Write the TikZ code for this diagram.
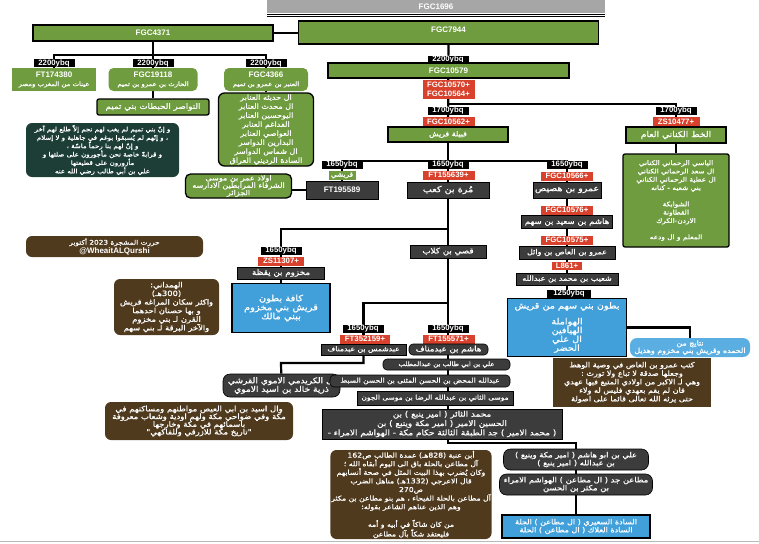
\documentclass[tikz,border=0pt]{standalone}
\usepackage{fontspec}
\setmainfont{Liberation Sans}
\newfontfamily\arabicfont[Script=Arabic, FakeStretch=1.15, FakeBold=1]{DejaVu Sans}
\TeXXeTstate=1
\usetikzlibrary{positioning,backgrounds}

\definecolor{leaf}{HTML}{6E9C3F}
\definecolor{snpred}{HTML}{D8412C}
\definecolor{person}{HTML}{3C3C3C}
\definecolor{clan}{HTML}{41A0DA}
\definecolor{result}{HTML}{5AAEE1}
\definecolor{quote}{HTML}{4F3A1E}
\definecolor{saying}{HTML}{1C3E36}
\definecolor{root}{HTML}{A6A6A6}

\newcommand\ar[1]{\beginR #1\endR}
\newcommand\hg[1]{{\normalfont\fontsize{8}{9}\selectfont\bfseries #1}}

\begin{document}
\begin{tikzpicture}[
    x=1pt, y=-1pt,
    every node/.style={align=center, text=white, inner sep=0.8pt},
    lat/.style={font=\fontsize{7.8}{8.6}\selectfont\bfseries},
    arb/.style={font=\arabicfont\fontsize{6.3}{8.4}\selectfont},
    asz/.style n args={2}{font=\arabicfont\fontsize{#1}{#2}\selectfont},
    hap/.style={fill=leaf, draw=black, line width=1.3pt},
    age/.style={fill=black, lat, minimum width=41, minimum height=8, inner sep=0pt},
    mut/.style={fill=snpred, lat, minimum width=52, minimum height=9, inner sep=0pt},
    anc/.style={fill=person, draw=black, line width=0.6pt, arb},
    ancr/.style={anc, rounded corners=4pt},
    clanbox/.style={fill=clan, draw=black, line width=1.3pt, arb},
    note/.style={fill=quote, rounded corners=6pt, arb},
    link/.style={line width=2.2pt}
]
\useasboundingbox (0,0) rectangle (759,543);

%% FGC1696
\node[fill=root, lat, font=\fontsize{8}{9}\selectfont\bfseries, minimum width=338, minimum height=13, inner sep=0pt] (fgc1696) at (436,6.5) {FGC1696};
\draw[line width=0.8pt] ([yshift=-1.2pt]fgc1696.south west) -- ([yshift=-1.2pt]fgc1696.south east);
\draw[line width=0.8pt] ([yshift=-3.6pt]fgc1696.south west) -- ([yshift=-3.6pt]fgc1696.south east);

%% FGC7944 / FGC4371
\node[hap, font=\fontsize{8}{9}\selectfont\bfseries, minimum width=300, minimum height=23, text height=5.5pt, text depth=6pt] (fgc7944) at (448.5,32.5) {FGC7944};
\node[hap, font=\fontsize{8}{9}\selectfont\bfseries, minimum width=240, minimum height=16] (fgc4371) at (153,33) {FGC4371};
\coordinate (bus1) at (153,55);

%% فروع تميم
\node[age] (a1) at (54,63) {2200ybq};
\node[age] (a2) at (153,63) {2200ybq};
\node[age] (a3) at (266,63) {2200ybq};
\node[fill=leaf, asz={6}{9}, minimum width=84, minimum height=23] (ft174380) at (54,79.5) {\hg{FT174380}\\\ar{عينات من المغرب ومصر}};
\node[fill=leaf, asz={6}{9}, rounded corners=5pt, minimum width=89, minimum height=23] (fgc19118) at (153,79.5) {\hg{FGC19118}\\\ar{الحارث بن عمرو بن تميم}};
\node[fill=leaf, asz={6}{9}, rounded corners=5pt, minimum width=84, minimum height=23] (fgc4366) at (266,79.5) {\hg{FGC4366}\\\ar{العنبر بن عمرو بن تميم}};
\node[hap, asz={7.6}{9}, rounded corners=2pt, minimum width=112, minimum height=16] (nawasir) at (153,107) {\ar{النواصر الحبطات بني تميم}};
\node[hap, asz={7}{9}, rounded corners=6pt, minimum width=95, minimum height=73] (anabir) at (266,129.5) {\ar{ال حديثه العنابر}\\\ar{ال محدث العنابر}\\\ar{اليوحسين العنابر}\\\ar{الفداغم العنابر}\\\ar{العواصي العنابر}\\\ar{البدارين الدواسر}\\\ar{ال شماس الدواسر}\\\ar{السادة الرديني العراق}};
\node[fill=saying, asz={6.1}{8.4}, rounded corners=6pt, minimum width=153, minimum height=54] (saying) at (102.5,150) {\ar{و إنّ بني تميم لم يغب لهم نجم إلاّ طلع لهم آخر}\\\ar{، و إنّهم لم يُسبقوا بوغم في جاهلية و لا إسلام}\\\ar{و إنّ لهم بنا رحماً ماسّة ،}\\\ar{و قرابةً خاصة نحن مأجورون على صلتها و}\\\ar{مأزورون على قطيعتها}\\\ar{علي بن أبي طالب رضي الله عنه}};

%% FGC10579
\node[age] (a4) at (448,59.5) {2200ybq};
\node[hap, font=\fontsize{8}{9}\selectfont\bfseries, minimum width=241, minimum height=15] (fgc10579) at (448.5,70.5) {FGC10579};
\node[mut, minimum height=19] (m1) at (448.5,89.5) {FGC10570+\\FGC10564+};
\coordinate (b2) at (448,104);
\node[age] (a5) at (448,110.5) {1700ybq};
\node[mut] (m2) at (448.5,121.5) {FGC10562+};
\node[hap, asz={6.8}{8}, minimum width=120, minimum height=15] (quraysh) at (448,134.5) {\ar{قبيلة قريش}};

%% كنانة
\node[age] (a6) at (676,110.5) {1700ybq};
\node[mut, minimum width=47] (m3) at (676,121.5) {ZS10477+};
\node[hap, asz={8}{9}, minimum width=100, minimum height=16] (kinani) at (676,135) {\ar{الخط الكناني العام}};
\node[hap, asz={6.4}{8.3}, rounded corners=2pt, minimum width=106, minimum height=93] (kinlist) at (676,200.5) {\ar{الياسي الرحماني الكناني}\\\ar{ال سعد الرحماني الكناني}\\\ar{ال عطية الرحماني الكناني}\\\ar{بني شعبه - كنانه}\\[8pt]\ar{الشوابكة}\\\ar{القطاونة}\\\ar{الاردن-الكرك}\\[8pt]\ar{المعلم و ال ودعه}};

%% فروع قريش
\coordinate (b3) at (448,161);
\node[age] (a7) at (342,164.5) {1650ybq};
\node[fill=leaf, asz={6.4}{7}, minimum width=27, minimum height=9, inner sep=0pt] (qurashi) at (342,175.5) {\ar{قريشي}};
\node[anc, font=\fontsize{8}{9}\selectfont\bfseries, minimum width=72, minimum height=18] (ft195589) at (342,190) {FT195589};
\node[hap, asz={7}{7.4}, rounded corners=5pt, minimum width=106, minimum height=24] (idrisi) at (238.5,186) {\ar{اولاد عمر بن موسى}\\\ar{الشرفاء المرابطين الادارسه}\\\ar{الجزائر}};
\node[age] (a8) at (448,164.5) {1650ybq};
\node[mut] (m4) at (448.5,175) {FT155639+};
\node[anc, asz={8.4}{9}, minimum width=82, minimum height=16] (murra) at (448,190) {\ar{مُرة بن كعب}};

%% بنو سهم
\node[age] (a9) at (567,164.5) {1650ybq};
\node[mut] (m5) at (567,176) {FGC10566+};
\node[anc, asz={8.2}{9}, minimum width=68, minimum height=16] (amrhusais) at (567,190) {\ar{عمرو بن هصيص}};
\node[mut] (m6) at (567,210) {FGC10576+};
\node[anc, asz={7.5}{8}, minimum width=91, minimum height=13] (hashimsahm) at (567,222) {\ar{هاشم بن سعيد بن سهم}};
\node[mut] (m7) at (567,240) {FGC10575+};
\node[anc, asz={7}{8}, minimum width=96, minimum height=13] (amraas) at (567,252.5) {\ar{عمرو بن العاص بن وائل}};
\node[mut, minimum width=30, minimum height=8] (m8) at (567,266) {L861+};
\node[anc, asz={7}{8}, minimum width=102, minimum height=12] (shuaib) at (567,279) {\ar{شعيب بن محمد بن عبدالله}};
\node[age, minimum width=44] (a10) at (569,293.5) {1250ybq};
\node[clanbox, asz={8.4}{8.8}, minimum width=119, minimum height=58] (sahm) at (567,327.5) {\ar{بطون بني سهم من قريش}\\[7pt]\ar{الهواملة}\\\ar{الهيافين}\\\ar{ال علي}\\\ar{الحضر}};
\node[fill=result, asz={6.9}{7.4}, rounded corners=7pt, minimum width=120, minimum height=19] (natayij) at (690,347.5) {\ar{نتايج من}\\\ar{الحمده وقريش بني مخزوم وهذيل}};
\node[fill=quote, asz={7}{8.5}, minimum width=158, minimum height=49] (wahat) at (632,382.5) {\ar{كتب عمرو بن العاص في وصية الوهط}\\\ar{وجعلها صدقة لا تباع ولا تورث :}\\\ar{وهي لـ الاكبر من اولادي المتبع فيها عهدي}\\\ar{فان لم يقم بعهدي فليس له ولاء}\\\ar{حتى يرثه الله تعالى قائما على اصولة}};

%% مخزوم
\coordinate (b4) at (448,229);
\node[age] (a11) at (281,250.5) {1650ybq};
\node[mut, minimum width=46] (m9) at (281,261) {ZS11307+};
\node[anc, asz={7.6}{8}, minimum width=87, minimum height=12] (makhzum) at (281,273) {\ar{مخزوم بن يقظة}};
\node[clanbox, asz={8.6}{9}, minimum width=98, minimum height=49] (makhblue) at (281,308) {\ar{كافة بطون}\\\ar{قريش بني مخزوم}\\\ar{ببني مالك}};
\node[note, asz={7.3}{8.6}, minimum width=105, minimum height=56] (hamdani) at (166.5,307) {\ar{الهمداني:}\\\ar{(300هـ)}\\\ar{واكثر سكان المراغه قريش}\\\ar{و بها حصنان احدهما}\\\ar{القرن لـ بني مخزوم}\\\ar{والآخر البرقة لـ بني سهم}};
\node[note, asz={6.4}{8.5}, minimum width=177, minimum height=21] (signed) at (114.5,246.5) {\ar{حررت المشجرة 2023 أكتوبر}\\{\normalfont\fontsize{8}{8.5}\selectfont\bfseries @WheaitALQurshi}};
\node[anc, asz={7.6}{8}, minimum width=76, minimum height=13] (qusay) at (448,251.5) {\ar{قصي بن كلاب}};

%% عبدمناف
\coordinate (b5) at (448,303);
\node[age] (a12) at (363,328.5) {1650ybq};
\node[mut, minimum width=50] (m10) at (365,339) {FT352159+};
\node[anc, asz={6.7}{7.5}, minimum width=85, minimum height=11] (abdshams) at (363.5,349.5) {\ar{عبدشمس بن عبدمناف}};
\node[age] (a13) at (448,328.5) {1650ybq};
\node[mut] (m11) at (448.5,339) {FT155571+};
\node[ancr, asz={7.5}{8}, minimum width=79, minimum height=11] (hashimam) at (448.5,349.5) {\ar{هاشم بن عبدمناف}};
\coordinate (b6) at (281,363);
\node[ancr, asz={7.9}{8.6}, rounded corners=7pt, minimum width=117, minimum height=23] (kuraidmi) at (281.5,385.5) {\ar{ال الكريدمي الاموي القرشي}\\\ar{ذرية خالد بن اسيد الاموي}};
\node[note, asz={7.4}{7.7}, minimum width=188, minimum height=38] (asid) at (199,421) {\ar{وال اسيد بن ابي العيص مواطنهم ومساكنهم في}\\\ar{مكة وفي ضواحي مكة ولهم اودية وشعاب معروفة}\\\ar{باسمائهم في مكة وخارجها}\\\ar{"تاريخ مكة للازرقي وللفاكهي"}};

%% الهواشم
\node[ancr, asz={6}{7}, minimum width=127, minimum height=11] (alitalib) at (446.5,364.5) {\ar{علي بن ابي طالب بن عبدالمطلب}};
\node[ancr, asz={6.5}{7}, minimum width=180, minimum height=12] (mahd) at (420,381) {\ar{عبدالله المحض بن الحسن المثنى بن الحسن السبط}};
\node[anc, asz={6.5}{7}, minimum width=156, minimum height=14] (musa) at (435,398) {\ar{موسى الثاني بن عبدالله الرضا بن موسى الجون}};
\node[anc, asz={7.7}{9.3}, minimum width=240, minimum height=30] (thaer) at (442,424) {\ar{محمد الثائر ( امير ينبع ) بن}\\\ar{الحسين الامير ( امير مكة وينبع ) بن}\\\ar{( محمد الامير ) جد الطبقة الثالثة حكام مكة - الهواشم الامراء -}};
\coordinate (b7) at (448,443);
\node[ancr, asz={7.2}{8}, rounded corners=7pt, minimum width=145, minimum height=21] (abuhashim) at (576,459.5) {\ar{علي بن ابو هاشم ( امير مكة وينبع )}\\\ar{بن عبدالله ( امير ينبع )}};
\node[ancr, asz={7.3}{8}, rounded corners=7pt, minimum width=153, minimum height=21] (mutain) at (576,484.5) {\ar{مطاعن جد ( ال مطاعن ) الهواشم الامراء}\\\ar{بن مكثر بن الحسن}};
\node[clanbox, asz={7}{8}, minimum width=148, minimum height=23] (hilla) at (576,526.5) {\ar{السادة السعيري ( ال مطاعن ) الجلة}\\\ar{السادة العلاك ( ال مطاعن ) الحلة}};
\node[note, asz={6.7}{8.6}, minimum width=158, minimum height=89] (inaba) at (411,494.5) {\ar{أبن عنبة (828هـ) عمدة الطالب ص162}\\\ar{آل مطاعن بالحلة باق الى اليوم أبقاه الله ؛}\\\ar{وكان يُضرب بهذا البيت المثل في صحة أنسابهم}\\\ar{قال الاعرجي (1332هـ) مناهل الضرب}\\\ar{ص270}\\\ar{آل مطاعن بالحلة الفيحاء ، هم بنو مطاعن بن مكثر}\\\ar{وهم الذين عناهم الشاعر بقوله:}\\[8pt]\ar{من كان شاكاً في أبيه و أمه}\\\ar{فليعتقد شكاً بآل مطاعن}};

\draw[gray!55, line width=1pt] (0,541.5) -- (759,541.5);

%% الخطوط
\begin{scope}[on background layer]
\draw[link] (fgc4371.east) -- (fgc7944.west |- fgc4371.east);
\draw[link] (fgc4371) -- (nawasir);
\draw[link] (a1.north) |- (bus1) -| (a3.north);
\draw[link] (a1) -- (ft174380);
\draw[link] (a3) -- (anabir);
\draw[link] (fgc7944) -- (quraysh);
\draw[link] (b2) -| (kinlist);
\draw[link] (ft195589) |- (b3) -| (sahm);
\draw[link] (ft195589.west) -- (ft195589.west -| idrisi.east);
\draw[link] (sahm.east) -| (natayij.north);
\draw[link] (quraysh) -- (qusay);
\draw[link] (makhblue) |- (b4);
\draw[link] (qusay) -- (b7) -| (hilla);
\draw[link] (abdshams) |- (b5);
\draw[link] (abdshams.south) |- (b6) -- (kuraidmi);
\end{scope}
\end{tikzpicture}
\end{document}
